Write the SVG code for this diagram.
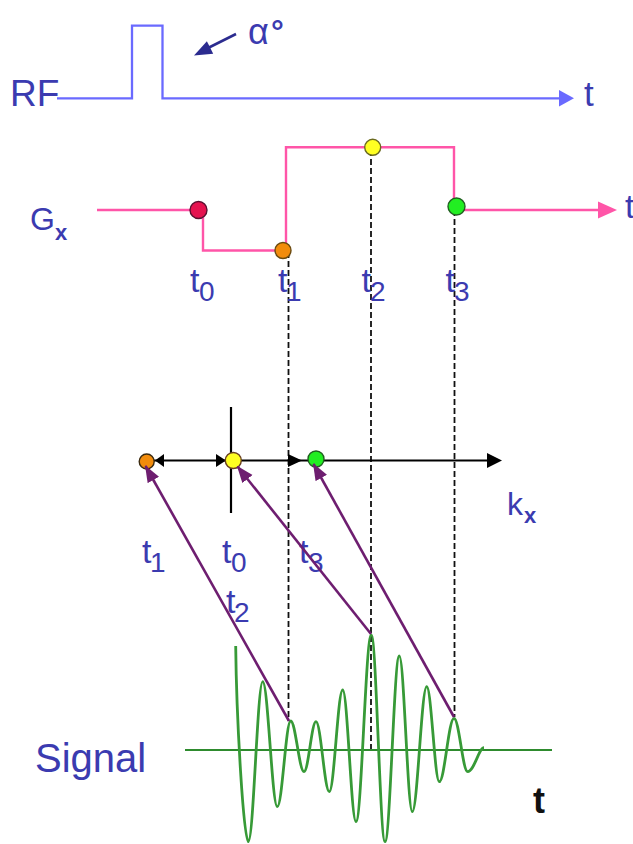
<svg xmlns="http://www.w3.org/2000/svg" width="633" height="844" viewBox="0 0 633 844">
<defs>
<style>
.lbl{font-family:"Liberation Sans",Arial,sans-serif;fill:#3b3bb0}
.sub{font-family:"Liberation Sans",Arial,sans-serif;fill:#3b3bb0}
.rf{fill:none;stroke:#6a6aff;stroke-width:2.3}
.gx{fill:none;stroke:#ff55a8;stroke-width:2.4}
.dash{fill:none;stroke:#111;stroke-width:1.8;stroke-dasharray:6 3}
.ax{fill:none;stroke:#000;stroke-width:2.2}
.pur{fill:none;stroke:#6e1e70;stroke-width:2.6;marker-end:url(#pa)}
.wave{fill:none;stroke:#379a37;stroke-width:2.8}
.dot{stroke-width:1.4}
</style>
<marker id="pa" markerUnits="userSpaceOnUse" markerWidth="18" markerHeight="14" refX="16" refY="6.5" orient="auto">
<path d="M0,0 L17,6.5 L0,13 Z" fill="#6e1e70"/>
</marker>
</defs>
<rect width="633" height="844" fill="#fff"/>

<g id="rf">
<path class="rf" d="M57,98.3 H132 V25.7 H162.5 V98.3 H560"/>
<polygon points="574,98.3 559,90 559,106.6" fill="#6a6aff"/>
<text class="lbl" x="10" y="106" font-size="37">RF</text>
<text class="lbl" x="584" y="106" font-size="35">t</text>
</g>

<g id="alpha">
<line x1="236" y1="34" x2="208" y2="48" stroke="#2b2b8f" stroke-width="2.6"/>
<polygon points="194,55.5 206.9,41.2 213.2,53.8" fill="#2b2b8f"/>
<text class="lbl" x="248" y="44" font-size="36">α</text>
<text class="lbl" x="271" y="42" font-size="32" font-weight="bold">°</text>
</g>

<g id="gx">
<path class="gx" d="M97,210 H203 V250.5 H286 V147.3 H454 V206"/>
<path class="gx" d="M457,210 H600"/>
<polygon points="617,210 598,201.5 598,218.5" fill="#ff55a8"/>
<text class="lbl" x="30" y="230" font-size="32">G</text>
<text class="sub" x="55" y="240" font-size="22" font-weight="bold">x</text>
<text class="lbl" x="625" y="218" font-size="34">t</text>
</g>

<g id="connectors">
<line class="dash" x1="288.5" y1="252" x2="288.5" y2="721"/>
<line class="dash" x1="371" y1="150" x2="371" y2="750"/>
<line class="dash" x1="454.5" y1="210" x2="454.5" y2="717"/>
</g>

<g id="gx-dots">
<circle class="dot" cx="198.5" cy="210" r="8.5" fill="#e5124f" stroke="#5a1030"/>
<circle class="dot" cx="283" cy="250.5" r="8" fill="#f28c0c" stroke="#6a4a10"/>
<circle class="dot" cx="372.7" cy="147.3" r="8" fill="#ffff22" stroke="#6a6a20"/>
<circle class="dot" cx="456.5" cy="206.5" r="8.5" fill="#22ee22" stroke="#206020"/>
</g>

<g id="gx-labels">
<text class="lbl" x="190" y="292" font-size="34">t</text>
<text class="sub" x="199" y="301" font-size="28">0</text>
<text class="lbl" x="278" y="292" font-size="34">t</text>
<text class="sub" x="286" y="301" font-size="28">1</text>
<text class="lbl" x="361.5" y="292" font-size="34">t</text>
<text class="sub" x="370" y="301" font-size="28">2</text>
<text class="lbl" x="445.5" y="292" font-size="34">t</text>
<text class="sub" x="454" y="301" font-size="28">3</text>
</g>

<g id="kx-axis">
<line class="ax" x1="140" y1="460.5" x2="490" y2="460.5"/>
<line class="ax" x1="231" y1="407" x2="231" y2="513"/>
<polygon points="155,460.5 164,454 164,467" fill="#000"/>
<polygon points="226,460.5 216,454 216,467" fill="#000"/>
<polygon points="302,460.5 288,454 288,467" fill="#000"/>
<polygon points="502,460.5 487,453 487,468" fill="#000"/>
<circle class="dot" cx="146.7" cy="461.5" r="7.5" fill="#f28c0c" stroke="#3a2a10"/>
<circle class="dot" cx="233.3" cy="460.5" r="8" fill="#ffff22" stroke="#6a4020"/>
<circle class="dot" cx="316" cy="459" r="8" fill="#22ee22" stroke="#206020"/>
<text class="lbl" x="507" y="515" font-size="32">k</text>
<text class="sub" x="524" y="523" font-size="22" font-weight="bold">x</text>
</g>

<g id="kx-labels">
<text class="lbl" x="142" y="563" font-size="34">t</text>
<text class="sub" x="150" y="572" font-size="28">1</text>
<text class="lbl" x="222" y="563" font-size="34">t</text>
<text class="sub" x="231" y="572" font-size="28">0</text>
<text class="lbl" x="299" y="563" font-size="34">t</text>
<text class="sub" x="308" y="572" font-size="28">3</text>
<text class="lbl" x="226" y="613" font-size="34">t</text>
<text class="sub" x="234" y="622" font-size="28">2</text>
</g>

<g id="signal">
<line x1="185" y1="750" x2="552" y2="750" stroke="#2e8b2e" stroke-width="2.2"/>
<path class="wave" d="M235.7,646 C236.5,720 243.7,841.7 248.3,841.7 C253.5,841.7 257.5,681.7 262.7,681.7 C268,681.7 272,806.7 277.3,806.7 C282.2,806.7 285.8,721 290.7,721 C295.5,721 299.2,771.7 304,771.7 C308.4,771.7 311.6,721.7 316,721.7 C320.8,721.7 324.5,791.7 329.3,791.7 C334.2,791.7 337.8,690 342.7,690 C347.5,690 351.2,821.7 356,821.7 C361.6,821.7 365.7,635 371.3,635 C376.3,635 380,841.7 385,841.7 C390.2,841.7 394.1,656 399.3,656 C404,656 407.6,811.7 412.3,811.7 C417.5,811.7 421.5,686.7 426.7,686.7 C431.3,686.7 434.7,781.7 439.3,781.7 C444.6,781.7 448.6,718.3 454,718.3 C459,718.3 462.7,771.7 467.7,771.7 C474,771.7 479,747.7 484,747.7"/>
<text class="lbl" x="35" y="772" font-size="40">Signal</text>
<text x="533" y="813" font-size="36" font-weight="bold" font-family="Liberation Sans, Arial, sans-serif" fill="#111">t</text>
</g>

<g id="purple-arrows">
<line class="pur" x1="289" y1="721" x2="145.5" y2="466"/>
<line class="pur" x1="371" y1="634" x2="237.5" y2="466.5"/>
<line class="pur" x1="454" y1="717" x2="313.5" y2="464"/>
</g>
</svg>
